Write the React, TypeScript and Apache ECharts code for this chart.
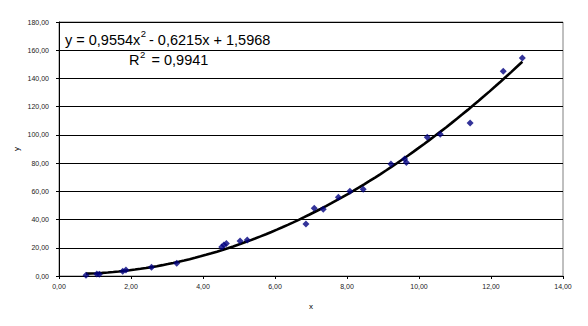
import React, { useEffect, useRef } from "react";
import * as echarts from "echarts";

const xValues = [0.75, 1.05, 1.12, 1.77, 1.86, 2.57, 3.27, 4.52, 4.58, 4.65, 5.03, 5.23, 6.86, 7.09, 7.34, 7.76, 8.08, 8.45, 9.22, 9.6, 9.65, 10.23, 10.59, 11.42, 12.34, 12.87];
const yValues = [0.5, 1.4, 1.2, 3.3, 4.3, 6.2, 9.0, 20.5, 22.0, 23.0, 24.8, 25.5, 36.9, 48.0, 47.3, 55.8, 60.0, 61.4, 79.4, 83.0, 80.5, 98.3, 100.4, 108.4, 145.1, 154.5];
// trend line coefficients shown in the chart: y = a x^2 + b x + c
const trendCoefficients = [0.9554, -0.6215, 1.5968];
const rSquared = "0,9941";

const FONT = "Liberation Sans, Arial, sans-serif";
const EQ_SIZE = 14.5;
const SUP_SIZE = 9.5;

function measure(text: string, size: number): number {
  const c = document.createElement("canvas").getContext("2d")!;
  c.font = `${size}px "Liberation Sans"`;
  return c.measureText(text).width;
}

const fmt = (v: number) => v.toFixed(2).replace(".", ",");
const fmt4 = (v: number) => v.toFixed(4).replace(".", ",");

export default function App() {
  const ref = useRef<HTMLDivElement>(null);
  useEffect(() => {
    if (!ref.current) return;
    const chart = echarts.init(ref.current, undefined, { renderer: "svg" });
    const scatter = xValues.map((x, i) => [x, yValues[i]]);
    const [a, b, c] = trendCoefficients;
    const xmin = Math.min(...xValues);
    const xmax = Math.max(...xValues);
    const trend: number[][] = [];
    const steps = 80;
    for (let i = 0; i <= steps; i++) {
      const x = xmin + ((xmax - xmin) * i) / steps;
      trend.push([x, a * x * x + b * x + c]);
    }
    const eq1 = "y = " + fmt4(a) + "x";
    const eq2 = "- " + fmt4(Math.abs(b)) + "x + " + fmt4(c);
    const w1 = measure(eq1, EQ_SIZE);
    const r1 = "R";
    const r2 = "= " + rSquared;
    const wr = measure(r1, EQ_SIZE);
    const eqX = 65;
    const rX = 129;
    const txt = (x: number, y: number, text: string, size: number) => ({
      type: "text",
      x,
      y,
      style: { text, fontFamily: FONT, fontSize: size, fill: "#000", verticalAlign: "middle" },
    });
    chart.setOption({
      animation: false,
      grid: { left: 59, right: 25, top: 22, bottom: 50, show: true, borderColor: "#808080", borderWidth: 1, backgroundColor: "transparent" },
      xAxis: {
        type: "value",
        min: 0,
        max: 14,
        interval: 2,
        name: "x",
        nameLocation: "middle",
        nameGap: 26,
        nameMoveOverlap: false,
        nameTextStyle: { fontFamily: FONT, fontSize: 8, color: "#000" },
        axisLine: { show: true, lineStyle: { color: "#000", width: 1 } },
        axisTick: { show: true, length: 3, inside: false, lineStyle: { color: "#000" } },
        axisLabel: { fontFamily: FONT, fontSize: 7, color: "#222", margin: 7, formatter: (v: number) => fmt(v) },
        splitLine: { show: false },
      },
      yAxis: {
        type: "value",
        min: 0,
        max: 180,
        interval: 20,
        name: "y",
        nameLocation: "middle",
        nameGap: 39,
        nameMoveOverlap: false,
        nameRotate: 90,
        nameTextStyle: { fontFamily: FONT, fontSize: 8, color: "#000" },
        axisLine: { show: true, lineStyle: { color: "#000", width: 1 } },
        axisTick: { show: true, length: 3, lineStyle: { color: "#000" } },
        axisLabel: { fontFamily: FONT, fontSize: 7, color: "#222", margin: 10, formatter: (v: number) => fmt(v) },
        splitLine: { show: true, lineStyle: { color: "#000", width: 1 } },
      },
      series: [
        {
          type: "line",
          data: trend,
          showSymbol: false,
          smooth: false,
          lineStyle: { color: "#000", width: 2.6 },
          z: 2,
        },
        {
          type: "scatter",
          data: scatter,
          symbol: "diamond",
          symbolSize: 7,
          itemStyle: { color: "#000080" },
          z: 3,
        },
      ],
      graphic: [
        txt(eqX, 40, eq1, EQ_SIZE),
        txt(eqX + w1 + 0.5, 33.5, "2", SUP_SIZE),
        txt(149, 40, eq2, EQ_SIZE),
        txt(rX, 60, r1, EQ_SIZE),
        txt(rX + wr + 0.5, 54.5, "2", SUP_SIZE),
        txt(151.5, 60, r2, EQ_SIZE),
      ],
    });
    return () => chart.dispose();
  }, []);
  return <div ref={ref} style={{ width: 588, height: 326, position: "absolute", left: 0, top: 0, background: "#fff" }} />;
}
